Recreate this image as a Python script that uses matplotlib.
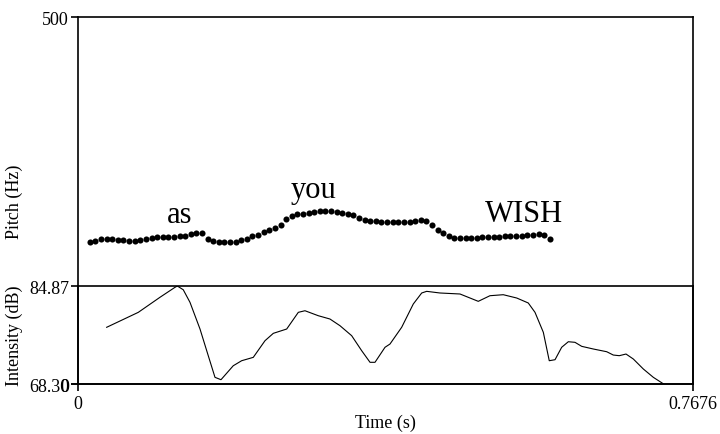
""" Pitch and intensity contour for the phrase 'as you WISH' """

import matplotlib
matplotlib.use('Agg')
import matplotlib.pyplot as plt
import numpy as np

# Time axis
t_max = 0.7676

# Pitch track (Hz), one value per analysis frame
pitch_t0 = 0.0148   # time of first frame (s)
pitch_dt = 0.007    # frame step (s)
pitch_hz = [192.8, 195.5, 197.3, 198.2, 197.8, 196.6, 195.8, 195.2, 195.2, 195.8,
            196.9, 198.5, 199.9, 200.8, 200.7, 200.7, 201.0, 201.5, 203.7, 205.7,
            205.7, 196.9, 194.4, 193.2, 193.0, 193.2, 194.0, 196.5, 197.5, 201.0,
            203.4, 207.1, 209.8, 212.5, 216.6, 224.8, 229.2, 231.2, 231.9, 233.0,
            234.6, 236.0, 236.1, 235.7, 234.9, 233.2, 231.6, 229.7, 226.8, 223.7,
            222.5, 222.1, 220.8, 220.3, 220.3, 220.3, 220.4, 221.1, 222.3, 223.4,
            221.5, 216.6, 210.5, 205.7, 201.9, 199.6, 198.9, 198.9, 199.2, 199.5,
            199.7, 200.0, 200.4, 200.8, 201.1, 201.4, 201.8, 202.2, 202.6, 203.0,
            203.9, 203.6, 197.5]

# Intensity contour (dB)
int_t = [0.0358, 0.0753, 0.1023, 0.1211, 0.1240, 0.1314, 0.1398, 0.1523, 0.1626, 0.1710,
         0.1785, 0.1938, 0.2043, 0.2188, 0.2334, 0.2438, 0.2605, 0.2750, 0.2833, 0.2999,
         0.3145, 0.3270, 0.3416, 0.3541, 0.3645, 0.3707, 0.3832, 0.3894, 0.4040, 0.4185,
         0.4290, 0.4352, 0.4518, 0.4768, 0.4871, 0.4996, 0.5142, 0.5308, 0.5476, 0.5620,
         0.5704, 0.5808, 0.5882, 0.5954, 0.6037, 0.6120, 0.6203, 0.6287, 0.6432, 0.6599,
         0.6681, 0.6756, 0.6840, 0.6931, 0.7056, 0.7181, 0.7310]
int_db = [77.89, 80.42, 82.96, 84.65, 84.87, 84.24, 82.11, 77.60, 73.09, 69.43,
          69.03, 71.39, 72.24, 72.81, 75.62, 76.87, 77.60, 80.42, 80.69, 79.85,
          79.29, 78.16, 76.47, 73.93, 71.97, 71.97, 74.51, 75.06, 77.89, 81.83,
          83.69, 83.97, 83.69, 83.52, 82.96, 82.28, 83.23, 83.40, 82.84, 82.00,
          80.42, 77.04, 72.24, 72.41, 74.51, 75.45, 75.35, 74.67, 74.22, 73.76,
          73.20, 73.09, 73.37, 72.53, 70.84, 69.43, 68.30]

pitch_range = [0, 500]
int_range = [68.30, 84.87]

# Word labels: text, time (s), pitch (Hz) of baseline
words = ['as', 'you', 'WISH']
word_t = [0.1273, 0.2946, 0.5567]
word_hz = [220.7, 254.8, 222.5]

plt.rcParams['font.family'] = ['Liberation Serif', 'DejaVu Serif']

fig = plt.figure(figsize=(7.2, 4.35), dpi=100)
ax = fig.add_axes([0.1083, 0.1149, 0.8542, 0.8437])
ax2 = fig.add_axes([0.1083, 0.1149, 0.8542, 0.2253])
ax2.patch.set_alpha(0)

# Pitch dots
frames = np.arange(len(pitch_hz))
pitch_t = pitch_t0 + frames * pitch_dt
ax.plot(pitch_t, pitch_hz, 'o', color='black', ms=4.4, mew=0)
ax.set_xlim(0, t_max)
ax.set_ylim(pitch_range)
ax.set_yticks(pitch_range)
ax.set_yticklabels(['0', '500'])
ax.set_xticks([0, t_max])
ax.set_xticklabels(['0', '0.7676'])
ax.set_ylabel('Pitch (Hz)', fontsize=13)
ax.set_xlabel('Time (s)', fontsize=13, labelpad=1)
ax.yaxis.set_label_coords(-0.09, 0.5)
ax.tick_params(direction='out', length=5, width=1.2, pad=1.5, labelsize=13)
ax.tick_params(axis='x', pad=3)
for s in ax.spines.values():
    s.set_linewidth(1.2)

for w, wt, wh in zip(words, word_t, word_hz):
    ax.text(wt, wh, w, fontsize=22, ha='center', va='baseline')

# Intensity curve
ax2.plot(int_t, int_db, color='black', lw=0.8)
ax2.set_xlim(0, t_max)
ax2.set_ylim(int_range)
ax2.set_yticks(int_range)
ax2.set_yticklabels(['68.30', '84.87'])
ax2.set_xticks([])
ax2.set_ylabel('Intensity (dB)', fontsize=13)
ax2.yaxis.set_label_coords(-0.09, 0.5)
ax2.tick_params(direction='out', length=5, width=1.2, pad=1.5, labelsize=13)
for s in ax2.spines.values():
    s.set_linewidth(1.2)

fig.savefig('out.png', dpi=100)
